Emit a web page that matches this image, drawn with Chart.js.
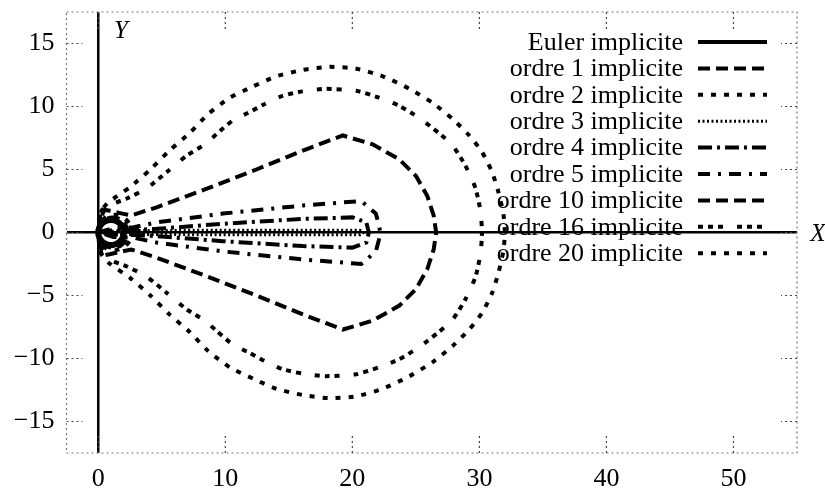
<!DOCTYPE html>
<html>
<head>
<meta charset="utf-8">
<script src="https://cdn.jsdelivr.net/npm/chart.js@4.4.1/dist/chart.umd.min.js"></script>
<style>
  html, body { margin: 0; padding: 0; background: #fff; }
  #wrap { width: 825px; height: 493px; }
</style>
</head>
<body>
<div id="wrap"><canvas id="c"></canvas></div>
<script>
"use strict";
/* Stability region boundaries of the implicit methods, gnuplot look. */
const xTicks = [0, 10, 20, 30, 40, 50];
const yTicks = [-15, -10, -5, 0, 5, 10, 15];
const labels = ["Euler implicite", "ordre 1 implicite", "ordre 2 implicite", "ordre 3 implicite",
  "ordre 4 implicite", "ordre 5 implicite", "ordre 10 implicite", "ordre 16 implicite", "ordre 20 implicite"];

const euler = [[2,0],[1.966,0.259],[1.866,0.5],[1.707,0.707],[1.5,0.866],[1.259,0.966],[1,1],[0.741,0.966],
  [0.5,0.866],[0.293,0.707],[0.134,0.5],[0.034,0.259],[0,0],[0.034,-0.259],[0.134,-0.5],[0.293,-0.707],
  [0.5,-0.866],[0.741,-0.966],[1,-1],[1.259,-0.966],[1.5,-0.866],[1.707,-0.707],[1.866,-0.5],[1.966,-0.259],[2,0]];
const ordre1 = [[0,0],[0.15,0.6],[0.55,1.05],[1.15,1.2],[1.75,1.05],[2.15,0.6],[2.3,0],[2.15,-0.6],
  [1.75,-1.05],[1.15,-1.2],[0.55,-1.05],[0.15,-0.6],[0,0]];
const ordre2 = [[0,0],[0.2,0.8],[0.7,1.3],[1.4,1.4],[2.1,1.1],[2.6,0.5],[2.8,0],[2.6,-0.5],[2.1,-1.1],
  [1.4,-1.4],[0.7,-1.3],[0.2,-0.8],[0,0]];
const ordre3 = [[0,0],[2,0.15],[10,0.18],[20.6,0.18],[20.9,0],[20.6,-0.18],[10,-0.18],[2,-0.15],[0,0]];
const ordre4 = [[0,0],[1,0.15],[2.8,0.2],[4.6,0.29],[9.8,0.69],[16.1,1.08],[20,1.2],[21.1,0.8],[21.3,0],
  [21.1,-0.8],[20,-1.2],[16.1,-1.08],[9.8,-0.69],[4.6,-0.29],[2.8,-0.2],[1,-0.15],[0,0]];
const ordre5 = [[0,0],[1.2,0.35],[2.8,0.42],[4.6,0.8],[9.8,1.5],[16.1,2.14],[20.7,2.5],[21.85,1.5],[22.1,0.55],
  [22.2,0],[22.1,-0.55],[21.85,-1.5],[20.7,-2.5],[16.1,-2.14],[9.8,-1.5],[4.6,-0.8],[2.8,-0.42],[1.2,-0.35],[0,0]];
const ordre10 = [[0,0],[0.1,1.0],[0.5,1.8],[0.9,1.72],[1.9,1.5],[2.6,1.35],[4.6,2.0],[8.5,3.46],[12.45,5.0],
  [16.1,6.5],[19.25,7.7],[21.6,7.0],[23.7,5.8],[25.0,4.5],[25.9,2.9],[26.4,1.35],[26.6,0],[26.4,-1.35],
  [25.9,-2.9],[25.0,-4.5],[23.7,-5.8],[21.6,-7.0],[19.25,-7.7],[16.1,-6.5],[12.45,-5.0],[8.5,-3.46],
  [4.6,-2.0],[2.6,-1.35],[1.9,-1.5],[0.9,-1.72],[0.5,-1.8],[0.1,-1.0],[0,0]];
const ordre16 = [[0,0],[0.08,1.0],[0.3,1.8],[1.2,2.3],[2.25,2.7],[3.8,3.5],[5.4,4.8],[6.96,6.1],[8.4,7.0],
  [9.3,7.8],[10.6,8.9],[11.8,9.5],[13.1,10.2],[14.5,10.85],[16.1,11.2],[17.9,11.4],[20.3,11.25],[22.1,10.7],
  [23.7,10.05],[25.25,9.1],[26.8,7.9],[27.9,6.9],[28.9,5.3],[29.7,3.5],[30.1,1.6],[30.2,0],
  [30.1,-1.6],[29.7,-3.5],[28.9,-5.3],[27.9,-6.9],[26.8,-7.9],[25.25,-9.1],[23.7,-10.05],[22.1,-10.7],
  [20.3,-11.25],[17.9,-11.4],[16.1,-11.2],[14.5,-10.85],[13.1,-10.2],[11.8,-9.5],[10.6,-8.9],[9.3,-7.8],
  [8.4,-7.0],[6.96,-6.1],[5.4,-4.8],[3.8,-3.5],[2.25,-2.7],[1.2,-2.3],[0.3,-1.8],[0.08,-1.0],[0,0]];
const ordre20 = [[0,0],[0.08,1.0],[0.3,1.8],[0.8,2.4],[2.5,3.6],[4.1,5.0],[5.6,6.5],[7.2,7.9],[8.65,9.4],
  [10.35,10.7],[12.2,11.6],[14.0,12.4],[16.1,12.9],[18.2,13.15],[20.3,13.0],[22.4,12.4],[24.5,11.4],
  [26.3,10.3],[27.9,9.0],[29.2,7.7],[30.2,6.4],[31.0,4.8],[31.5,3.2],[31.9,1.4],[32.0,0],
  [31.9,-1.4],[31.5,-3.2],[31.0,-4.8],[30.2,-6.4],[29.2,-7.7],[27.9,-9.0],[26.3,-10.3],[24.5,-11.4],
  [22.4,-12.4],[20.3,-13.0],[18.2,-13.15],[16.1,-12.9],[14.0,-12.4],[12.2,-11.6],[10.35,-10.7],
  [8.65,-9.4],[7.2,-7.9],[5.6,-6.5],[4.1,-5.0],[2.5,-3.6],[0.8,-2.4],[0.3,-1.8],[0.08,-1.0],[0,0]];

const curves = [euler, ordre1, ordre2, ordre3, ordre4, ordre5, ordre10, ordre16, ordre20];
const dashes = [[], [12,6], [5,8], [2,2.5], [14,5,3,5], [12,8,3,8], [12,6], [5,5,5,5,5,14], [5,8]];
const widths = [6, 4, 4, 3, 4, 4, 4, 4, 4];
const tens = [0.3, 0.3, 0.3, 0, 0, 0, 0, 0.2, 0.2];

const SERIF = '"Liberation Serif", "DejaVu Serif", serif';
const minus = v => (v < 0 ? "\u2212" + Math.abs(v) : String(v));

const datasets = curves.map((pts, i) => ({
  label: labels[i],
  data: pts.map(p => ({ x: p[0], y: p[1] })),
  showLine: true, pointRadius: 0, borderColor: "#000", borderWidth: widths[i],
  borderDash: dashes[i], borderCapStyle: "butt", tension: tens[i], fill: false
}));

// gnuplot-ish frame: dotted border, inner dotted ticks, legend, axis names
const frame = {
  id: "frame",
  afterDatasetsDraw(chart){
    const ctx = chart.ctx, a = chart.chartArea, xs = chart.scales.x, ys = chart.scales.y;
    ctx.save();
    ctx.strokeStyle = "#777"; ctx.lineWidth = 1.2; ctx.setLineDash([2, 3]);
    ctx.strokeRect(a.left, a.top, a.right - a.left, a.bottom - a.top);
    ctx.strokeStyle = "#444";
    ctx.beginPath();
    yTicks.forEach(v => {
      const y = ys.getPixelForValue(v);
      ctx.moveTo(a.left, y); ctx.lineTo(a.left + 16, y);
      ctx.moveTo(a.right, y); ctx.lineTo(a.right - 16, y);
    });
    xTicks.forEach(v => {
      const x = xs.getPixelForValue(v);
      ctx.moveTo(x, a.bottom); ctx.lineTo(x, a.bottom - 18);
      ctx.moveTo(x, a.top); ctx.lineTo(x, a.top + 18);
    });
    ctx.stroke();

    // legend, text right-aligned with line sample to its right
    ctx.fillStyle = "#000"; ctx.strokeStyle = "#000";
    ctx.font = "26px " + SERIF; ctx.textAlign = "right"; ctx.textBaseline = "middle";
    chart.data.datasets.forEach((d, i) => {
      const y = 42 + i * 26.4;
      ctx.setLineDash([]);
      ctx.fillText(d.label, 683, y + 1);
      ctx.lineWidth = Math.min(d.borderWidth, 4); ctx.setLineDash(d.borderDash); ctx.lineCap = "butt";
      ctx.beginPath(); ctx.moveTo(698, y); ctx.lineTo(767, y); ctx.stroke();
    });

    ctx.setLineDash([]);
    ctx.font = "italic 25px " + SERIF; ctx.textAlign = "center";
    ctx.fillText("Y", 121, 31);
    ctx.fillText("X", 818, 234);
    ctx.restore();
  }
};

const axisGrid = {
  color: c => (c.tick && c.tick.value === 0 ? "#000" : "rgba(0,0,0,0)"),
  lineWidth: 2.5, drawTicks: false
};
const noPad = s => { s.paddingTop = 0; s.paddingBottom = 0; s.paddingLeft = 0; s.paddingRight = 0; };

new Chart(document.getElementById("c"), {
  type: "scatter",
  data: { datasets },
  options: {
    responsive: true, maintainAspectRatio: false, animation: false,
    layout: { padding: { top: 12, right: 28, left: 0, bottom: 0 } },
    plugins: { legend: { display: false }, tooltip: { enabled: false } },
    scales: {
      x: {
        type: "linear", min: -2.5, max: 55,
        afterBuildTicks: s => { s.ticks = xTicks.map(v => ({ value: v })); },
        afterFit: s => { s.height = 40; noPad(s); },
        grid: axisGrid, border: { display: false },
        ticks: { color: "#000", font: { family: SERIF, size: 26 }, padding: 11, maxRotation: 0,
          callback: v => minus(v) }
      },
      y: {
        type: "linear", min: -17.5, max: 17.5,
        afterBuildTicks: s => { s.ticks = yTicks.map(v => ({ value: v })); },
        afterFit: s => { s.width = 66.5; noPad(s); },
        grid: axisGrid, border: { display: false },
        ticks: { color: "#000", font: { family: SERIF, size: 26 }, padding: 12,
          callback: v => minus(v) }
      }
    }
  },
  plugins: [frame]
});
</script>
</body>
</html>
